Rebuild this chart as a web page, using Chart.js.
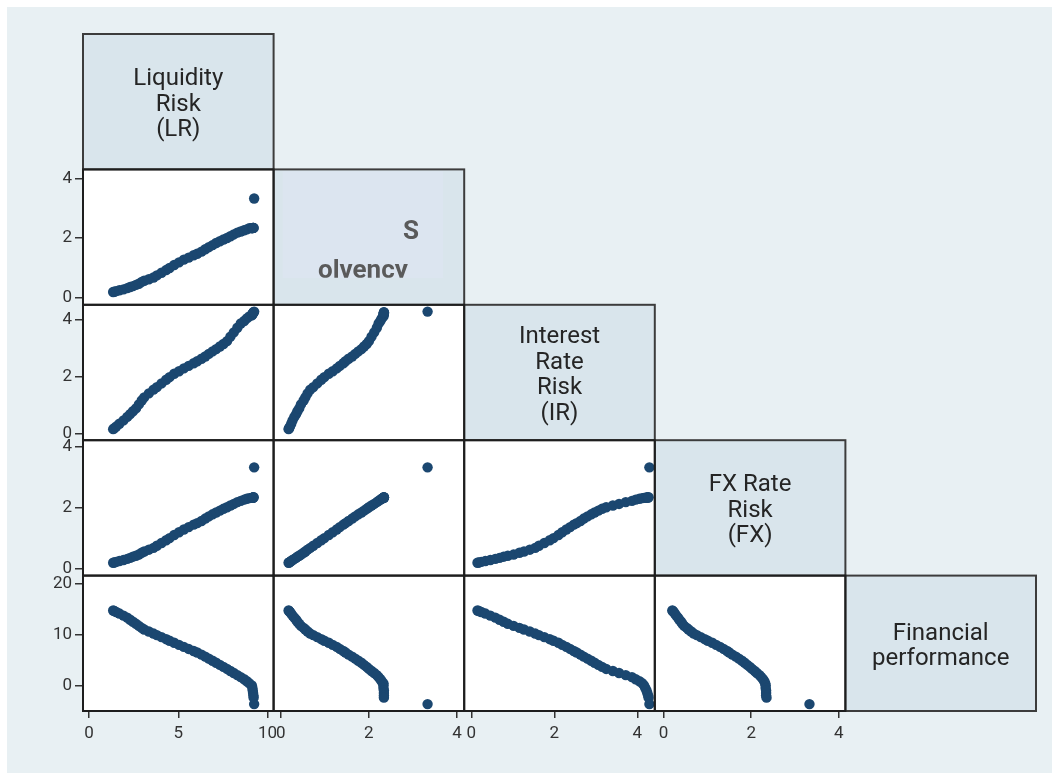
<!DOCTYPE html>
<html>
<head>
<meta charset="utf-8">
<script src="https://cdn.jsdelivr.net/npm/chart.js@4.4.0/dist/chart.umd.min.js"></script>
<style>
  body { margin: 0; background: #fff; }
  #bg { position: absolute; left: 7px; top: 7px; width: 1045px; height: 766px; background: #e8f0f3; }
  #plot { position: absolute; left: 0; top: 0; }
</style>
</head>
<body>
<div id="bg"></div>
<canvas id="plot" width="1052" height="773"></canvas>
<script>
const financialPerf = [14.7, 14.6, 14.4, 14.1, 13.7, 13.3, 12.9, 12.5, 12.1, 11.7, 11.3, 11.0, 10.6, 10.2, 9.9, 9.5, 9.1, 8.8, 8.4, 8.0, 7.6, 7.2, 6.8, 6.5, 6.1, 5.7, 5.3, 4.9, 4.5, 4.1, 3.7, 3.3, 2.9, 2.5, 2.1, 1.7, 1.3, 0.9, 0.5, 0.1, -0.4, -0.9, -1.4, -1.9, -2.3, -3.55];
const liquidity = [1.35, 1.41, 1.52, 1.70, 1.93, 2.14, 2.30, 2.46, 2.63, 2.79, 2.95, 3.09, 3.35, 3.61, 3.80, 4.06, 4.32, 4.51, 4.77, 5.04, 5.31, 5.58, 5.86, 6.06, 6.30, 6.51, 6.71, 6.92, 7.12, 7.33, 7.53, 7.73, 7.92, 8.11, 8.31, 8.50, 8.69, 8.84, 8.98, 9.12, 9.15, 9.17, 9.19, 9.21, 9.22, 9.25];
const solvency = [0.18, 0.19, 0.21, 0.24, 0.27, 0.31, 0.35, 0.38, 0.42, 0.46, 0.52, 0.56, 0.61, 0.67, 0.74, 0.83, 0.92, 0.99, 1.09, 1.18, 1.27, 1.34, 1.42, 1.47, 1.54, 1.62, 1.69, 1.76, 1.83, 1.89, 1.95, 2.00, 2.06, 2.12, 2.18, 2.22, 2.26, 2.29, 2.33, 2.33, 2.33, 2.34, 2.34, 2.34, 2.34, 3.33];
const interestRate = [0.15, 0.18, 0.24, 0.34, 0.46, 0.58, 0.68, 0.78, 0.88, 1.02, 1.16, 1.27, 1.41, 1.54, 1.63, 1.76, 1.89, 1.98, 2.10, 2.19, 2.29, 2.38, 2.47, 2.54, 2.63, 2.71, 2.80, 2.89, 2.97, 3.06, 3.15, 3.25, 3.41, 3.56, 3.72, 3.87, 3.96, 4.05, 4.12, 4.16, 4.19, 4.22, 4.24, 4.26, 4.27, 4.29];
const fxRate = [0.20, 0.21, 0.23, 0.26, 0.29, 0.33, 0.36, 0.40, 0.43, 0.47, 0.53, 0.57, 0.63, 0.69, 0.76, 0.85, 0.94, 1.01, 1.11, 1.20, 1.29, 1.37, 1.45, 1.50, 1.57, 1.65, 1.72, 1.79, 1.85, 1.91, 1.97, 2.02, 2.08, 2.13, 2.19, 2.23, 2.27, 2.30, 2.32, 2.33, 2.33, 2.34, 2.34, 2.34, 2.35, 3.33];

const variables = [liquidity, solvency, interestRate, fxRate, financialPerf];
const headerLabels = [
  ["Liquidity", "Risk", "(LR)"],
  ["S", "olvency"],
  ["Interest", "Rate", "Risk", "(IR)"],
  ["FX Rate", "Risk", "(FX)"],
  ["Financial", "performance"]
];
// axis ranges and tick labels per column (x) and row (y)
const xRanges = [[-0.34, 10.34], [-0.16, 4.16], [-0.17, 4.42], [-0.2, 4.15], [0, 1]];
const yRanges = [[0, 1], [-0.25, 4.31], [-0.24, 4.53], [-0.22, 4.22], [-4.9, 21.5]];
const xTicks = [[0, 5, 10], [0, 2, 4], [0, 2, 4], [0, 2, 4], []];
const yTicks = [[], [0, 2, 4], [0, 2, 4], [0, 2, 4], [0, 10, 20]];

const n = variables.length;
const dotColor = "#1b4770";
const headerFill = "#d9e5ec";
const tickFont = { family: "Roboto", size: 17 };

// one dataset per lower-triangle cell
const datasets = [];
for (let r = 1; r < n; r++) {
  for (let c = 0; c < r; c++) {
    datasets.push({
      data: variables[c].map((v, i) => ({ x: v, y: variables[r][i] })),
      xAxisID: "x" + c,
      yAxisID: "y" + r,
      backgroundColor: dotColor,
      borderWidth: 0,
      pointRadius: 5.2
    });
  }
}

const scales = {};
for (let c = 0; c < n; c++) {
  const shown = xTicks[c].length > 0;
  scales["x" + c] = {
    type: "linear",
    position: "bottom",
    stack: "cols",
    stackWeight: 1,
    min: xRanges[c][0],
    max: xRanges[c][1],
    afterBuildTicks: s => { s.ticks = xTicks[c].map(v => ({ value: v })); },
    afterFit: s => { s.height = 40; },
    border: { display: false },
    grid: { display: shown, drawOnChartArea: false, tickLength: 7, color: "#333", lineWidth: 1.5 },
    ticks: { display: shown, autoSkip: false, maxRotation: 0, color: "#333", font: tickFont, padding: 6 }
  };
}
// rows listed bottom-up: left stacked axes are placed in reverse order
for (let r = n - 1; r >= 0; r--) {
  const shown = yTicks[r].length > 0;
  scales["y" + r] = {
    type: "linear",
    position: "left",
    stack: "rows",
    stackWeight: 1,
    min: yRanges[r][0],
    max: yRanges[r][1],
    afterBuildTicks: s => { s.ticks = yTicks[r].map(v => ({ value: v })); },
    afterFit: s => { s.width = 63; },
    border: { display: false },
    grid: { display: shown, drawOnChartArea: false, tickLength: 8, color: "#333", lineWidth: 1.5 },
    ticks: { display: shown, autoSkip: false, color: "#333", font: tickFont, padding: 3 }
  };
}

function cellBox(chart, r, c) {
  const xs = chart.scales["x" + c], ys = chart.scales["y" + r];
  return { left: xs.left, top: ys.top, w: xs.right - xs.left, h: ys.bottom - ys.top };
}

const matrixPlugin = {
  id: "matrix",
  beforeDatasetsDraw(chart) {
    const ctx = chart.ctx;
    ctx.save();
    for (let r = 0; r < n; r++) {
      for (let c = 0; c <= r; c++) {
        const b = cellBox(chart, r, c);
        ctx.fillStyle = r === c ? headerFill : "#ffffff";
        ctx.fillRect(b.left, b.top, b.w, b.h);
        if (r === 1 && c === 1) {
          ctx.fillStyle = "#dce5f0";
          ctx.fillRect(b.left + 9, b.top + 2, b.w - 30, b.h - 29);
        }
      }
    }
    ctx.restore();
  },
  afterDatasetsDraw(chart) {
    const ctx = chart.ctx;
    ctx.save();
    // headers
    for (let k = 0; k < n; k++) {
      const b = cellBox(chart, k, k);
      ctx.strokeStyle = "#3c3c3c";
      ctx.lineWidth = 2;
      ctx.strokeRect(b.left, b.top, b.w, b.h);
      const cx = b.left + b.w / 2, cy = b.top + b.h / 2;
      ctx.textAlign = "center";
      ctx.textBaseline = "middle";
      if (k === 1) {
        ctx.save();
        ctx.beginPath();
        ctx.rect(b.left + 9, b.top + 2, b.w - 30, b.h - 29);
        ctx.clip();
        ctx.fillStyle = "#5a5a5a";
        ctx.font = "bold 26px Roboto";
        ctx.fillText(headerLabels[k][0], cx + 42, cy - 5);
        ctx.fillText(headerLabels[k][1], cx - 6, cy + 34);
        ctx.restore();
      } else {
        const lines = headerLabels[k];
        const lh = 25.5;
        ctx.fillStyle = "#252525";
        ctx.font = "24px Roboto";
        lines.forEach((t, i) => {
          ctx.fillText(t, cx, cy + (i - (lines.length - 1) / 2) * lh + 3);
        });
      }
    }
    // scatter cell frames
    ctx.strokeStyle = "#1e1e1e";
    ctx.lineWidth = 2;
    for (let r = 1; r < n; r++) {
      for (let c = 0; c < r; c++) {
        const b = cellBox(chart, r, c);
        ctx.strokeRect(b.left, b.top, b.w, b.h);
      }
    }
    ctx.restore();
  }
};

new Chart(document.getElementById("plot").getContext("2d"), {
  type: "scatter",
  data: { datasets },
  options: {
    responsive: false,
    animation: false,
    events: [],
    layout: { padding: { left: 20, right: 16, top: 34, bottom: 22 } },
    plugins: { legend: { display: false }, tooltip: { enabled: false } },
    scales
  },
  plugins: [matrixPlugin]
});
</script>
</body>
</html>
